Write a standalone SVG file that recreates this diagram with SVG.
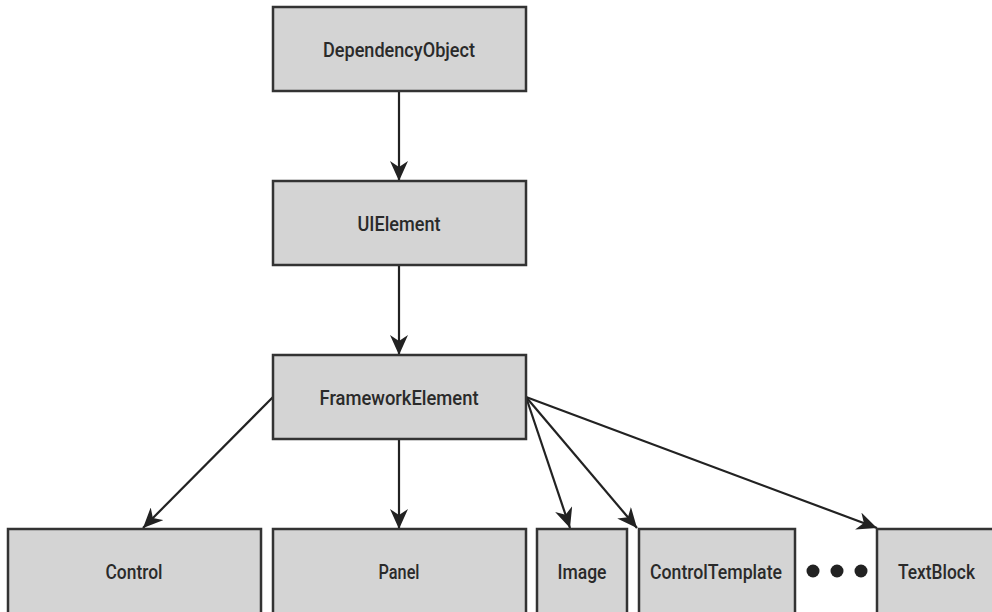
<svg xmlns="http://www.w3.org/2000/svg" width="992" height="612" viewBox="0 0 992 612">
<defs>
<marker id="ah" markerUnits="userSpaceOnUse" markerWidth="22" markerHeight="18" viewBox="0 0 22 18" refX="20" refY="9" orient="auto">
<path d="M0,0 L20,9 L0,18 L6,9 Z" fill="#222"/>
</marker>
<style>
.box{fill:#d4d4d4;stroke:#333;stroke-width:2.5}
.lbl{font-family:Roboto,"Liberation Sans",sans-serif;font-size:21px;font-weight:500;fill:#2a2a2a;text-anchor:middle}
.con{stroke:#222;stroke-width:2.2;fill:none;marker-end:url(#ah)}
</style>
</defs>
<rect width="992" height="612" fill="#fff"/>
<g id="connectors">
<line class="con" x1="399" y1="91" x2="399" y2="181"/>
<line class="con" x1="399" y1="265" x2="399" y2="355"/>
<line class="con" x1="273" y1="397" x2="143" y2="528"/>
<line class="con" x1="399" y1="439" x2="399" y2="529"/>
<line class="con" x1="526" y1="397" x2="570" y2="528"/>
<line class="con" x1="526" y1="397" x2="637" y2="528"/>
<line class="con" x1="526" y1="397" x2="877" y2="528"/>
</g>
<g id="DependencyObject"><rect class="box" x="273" y="7" width="253" height="84"/><text class="lbl" x="399" y="57" textLength="152" lengthAdjust="spacingAndGlyphs">DependencyObject</text></g>
<g id="UIElement"><rect class="box" x="273" y="181" width="253" height="84"/><text class="lbl" x="399" y="231" textLength="83" lengthAdjust="spacingAndGlyphs">UIElement</text></g>
<g id="FrameworkElement"><rect class="box" x="273" y="355" width="253" height="84"/><text class="lbl" x="399" y="405" textLength="159" lengthAdjust="spacingAndGlyphs">FrameworkElement</text></g>
<g id="Control"><rect class="box" x="8" y="529" width="253" height="100"/><text class="lbl" x="134" y="579" textLength="57" lengthAdjust="spacingAndGlyphs">Control</text></g>
<g id="Panel"><rect class="box" x="273" y="529" width="253" height="100"/><text class="lbl" x="399" y="579" textLength="41" lengthAdjust="spacingAndGlyphs">Panel</text></g>
<g id="Image"><rect class="box" x="537" y="529" width="90" height="100"/><text class="lbl" x="582" y="579" textLength="49" lengthAdjust="spacingAndGlyphs">Image</text></g>
<g id="ControlTemplate"><rect class="box" x="639" y="529" width="156" height="100"/><text class="lbl" x="716" y="579" textLength="132" lengthAdjust="spacingAndGlyphs">ControlTemplate</text></g>
<g id="ellipsis"><circle cx="813" cy="571" r="6.5" fill="#222"/><circle cx="837" cy="571" r="6.5" fill="#222"/><circle cx="861" cy="571" r="6.5" fill="#222"/></g>
<g id="TextBlock"><rect class="box" x="877" y="529" width="130" height="100"/><text class="lbl" x="936.5" y="579" textLength="77" lengthAdjust="spacingAndGlyphs">TextBlock</text></g>
</svg>
